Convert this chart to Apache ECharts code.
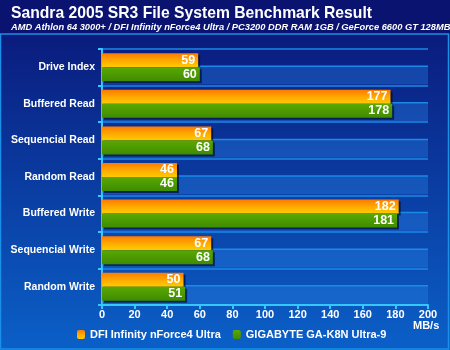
<!DOCTYPE html>
<html>
<head>
<meta charset="utf-8">
<script src="https://cdn.jsdelivr.net/npm/echarts@6/dist/echarts.min.js"></script>
<style>
  html, body { margin: 0; padding: 0; }
  #chart { width: 450px; height: 350px; }
</style>
</head>
<body>
<div id="chart"></div>
<script>
// benchmark data (MB/s)
const categories = ["Drive Index", "Buffered Read", "Sequencial Read", "Random Read",
  "Buffered Write", "Sequencial Write", "Random Write"];
const dfiValues = [59, 177, 67, 46, 182, 67, 50];
const gigabyteValues = [60, 178, 68, 46, 181, 68, 51];
const seriesNames = ["DFI Infinity nForce4 Ultra", "GIGABYTE GA-K8N Ultra-9"];
const axisMax = 200;

const chart = echarts.init(document.getElementById("chart"));
const G = echarts.graphic;
const font = "Liberation Sans, Arial, sans-serif";

const orangeFill = new G.LinearGradient(0, 0, 0, 1, [
  { offset: 0, color: "#ff7a00" },
  { offset: 0.5, color: "#ffa800" },
  { offset: 1, color: "#ffcc00" }
]);
const greenFill = new G.LinearGradient(0, 0, 0, 1, [
  { offset: 0, color: "#5aa800" },
  { offset: 1, color: "#3f8c00" }
]);

const labelStyle = {
  show: true,
  position: "insideRight",
  color: "#fff",
  fontFamily: font,
  fontWeight: "bold",
  fontSize: 12.5,
  distance: 3
};

let option = {
  backgroundColor: new G.LinearGradient(0, 0, 0, 1, [
    { offset: 0, color: "#0a1470" },
    { offset: 0.098, color: "#0a1470" },
    { offset: 0.1, color: "#0a1c7e" },
    { offset: 1, color: "#0a60c8" }
  ]),
  animation: false,
  graphic: [
    { type: "rect", shape: { x: 0.5, y: 34, width: 448, height: 315 },
      style: { fill: "none", stroke: "#1a8fe8", lineWidth: 1.5 }, silent: true }
  ],
  title: {
    text: "Sandra 2005 SR3 File System Benchmark Result",
    subtext: "AMD Athlon 64 3000+ / DFI Infinity nForce4 Ultra / PC3200 DDR RAM 1GB / GeForce 6600 GT 128MB",
    left: 6,
    top: 1,
    itemGap: 1,
    textStyle: {
      color: "#fff",
      fontFamily: font,
      fontWeight: "bold",
      fontSize: 15.7
    },
    subtextStyle: {
      color: "#fff",
      fontFamily: font,
      fontWeight: "bold",
      fontStyle: "italic",
      fontSize: 9.3
    }
  },
  legend: {
    bottom: 5,
    left: 72,
    itemWidth: 8,
    itemHeight: 9,
    itemGap: 12,
    textStyle: {
      color: "#fff",
      fontFamily: font,
      fontWeight: "bold",
      fontSize: 11
    },
    data: seriesNames
  },
  grid: {
    left: 102,
    right: 22,
    top: 49,
    bottom: 45
  },
  xAxis: {
    type: "value",
    min: 0,
    max: axisMax,
    interval: 20,
    name: "MB/s",
    nameLocation: "end",
    nameGap: -15,
    nameTextStyle: {
      color: "#fff",
      fontFamily: font,
      fontWeight: "bold",
      fontSize: 11,
      verticalAlign: "top",
      padding: [15, 0, 0, 0]
    },
    axisLine: { show: true, lineStyle: { color: "#33c8ff", width: 2 } },
    axisTick: { show: true, length: 4, lineStyle: { color: "#33c8ff", width: 2 } },
    axisLabel: {
      color: "#fff",
      fontFamily: font,
      fontWeight: "bold",
      fontSize: 11,
      margin: 4
    },
    splitLine: { show: false }
  },
  yAxis: {
    type: "category",
    inverse: true,
    data: categories,
    axisLine: { show: true, lineStyle: { color: "#33c8ff", width: 2 } },
    axisTick: { show: true, length: 4, lineStyle: { color: "#33c8ff", width: 2 } },
    axisLabel: {
      color: "#fff",
      fontFamily: font,
      fontWeight: "bold",
      fontSize: 10.5,
      margin: 7
    },
    splitLine: { show: true, lineStyle: { color: "#1a8ae8", width: 1.5 } }
  },
  series: [
    {
      // lighter shelf stripe behind the second bar of each row
      type: "custom",
      silent: true,
      z: 1,
      data: categories.map((c) => [axisMax, c]),
      renderItem: function (params, api) {
        const idx = api.value(1);
        const start = api.coord([0, idx]);
        const end = api.coord([api.value(0), idx]);
        const band = api.size([0, 1])[1];
        const top = start[1] - 1;
        const bottom = start[1] + band / 2 - 1;
        return {
          type: "group",
          children: [
            { type: "rect",
              shape: { x: start[0], y: top, width: end[0] - start[0], height: bottom - top },
              style: { fill: "rgba(40,130,230,0.38)" } },
            { type: "line",
              shape: { x1: start[0], y1: top, x2: end[0], y2: top },
              style: { stroke: "#1a8ae8", lineWidth: 1.5 } }
          ]
        };
      }
    },
    {
      name: seriesNames[0],
      type: "bar",
      z: 3,
      barWidth: 14,
      barGap: "0%",
      data: dfiValues,
      itemStyle: {
        color: orangeFill,
        shadowColor: "rgba(0,0,30,0.6)",
        shadowOffsetX: 2,
        shadowOffsetY: 2
      },
      label: labelStyle
    },
    {
      name: seriesNames[1],
      type: "bar",
      z: 3,
      barWidth: 14,
      data: gigabyteValues,
      itemStyle: {
        color: greenFill,
        shadowColor: "rgba(0,0,30,0.6)",
        shadowOffsetX: 2,
        shadowOffsetY: 2
      },
      label: labelStyle
    }
  ]
};

chart.setOption(option);
</script>
</body>
</html>
